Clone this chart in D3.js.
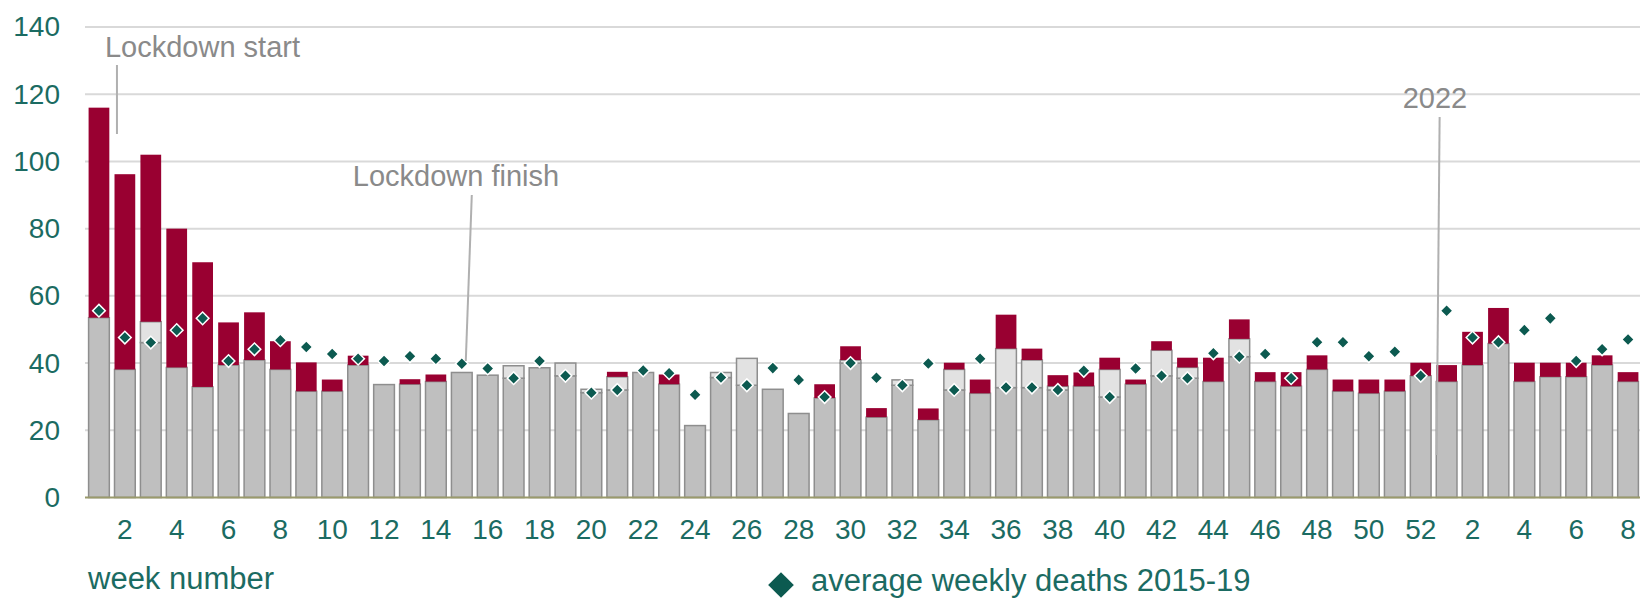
<!DOCTYPE html>
<html>
<head>
<meta charset="utf-8">
<script src="https://cdn.jsdelivr.net/npm/d3@7"></script>
<style>
  body { margin: 0; background: #fff; }
  svg { display: block; font-family: "Liberation Sans", Arial, sans-serif; }
</style>
</head>
<body>
<svg id="chart" width="1640" height="599"></svg>
<script>
// week numbers: 2021 weeks 1-52 then 2022 weeks 1-8
var weekNo = d3.range(1, 53).concat(d3.range(1, 9));

// all deaths registered that week
var allDeaths = [
    116, 96.2, 102, 80, 70, 52.1, 55.1, 46.5, 40.2, 35.1,
    42.2, 33.6, 35.2, 36.6, 37.2, 36.4, 39.2, 38.6, 40.0, 32.2,
    37.4, 37.2, 36.6, 21.4, 37.2, 41.4, 32.2, 25.0, 33.7, 45.0,
    26.6, 35.0, 26.5, 40.1, 35.1, 54.4, 44.3, 36.4, 37.2, 41.6,
    35.1, 46.5, 41.6, 41.6, 53.0, 37.3, 37.3, 42.3, 35.1, 35.1,
    35.1, 40.1,
    39.4, 49.3, 56.4, 40.1, 40.1, 40.1, 42.3, 37.3
];

// deaths not involving covid-19
var nonCovid = [
    53.5, 38.1, 52.3, 38.7, 32.9, 39.4, 40.9, 38.1, 31.6, 31.6,
    39.4, 33.6, 33.7, 34.5, 37.2, 36.4, 39.2, 38.6, 40.0, 32.2,
    35.9, 37.2, 33.7, 21.4, 37.2, 41.4, 32.2, 25.0, 29.6, 40.9,
    23.9, 35.0, 23.1, 38.1, 31.0, 44.3, 40.9, 33.1, 33.1, 38.1,
    33.7, 43.8, 38.7, 34.5, 47.2, 34.5, 33.1, 38.1, 31.6, 31.0,
    31.6, 36.2,
    34.5, 39.4, 45.8, 34.5, 35.9, 35.9, 39.4, 34.5
];

// average weekly deaths 2015-19
var avgDeaths = [
    55.6, 47.6, 46.1, 49.8, 53.3, 40.6, 44.1, 46.8, 44.8, 42.7,
    41.3, 40.6, 42.0, 41.3, 39.8, 38.4, 35.5, 40.6, 36.2, 31.2,
    32.0, 37.8, 37.0, 30.6, 35.7, 33.4, 38.5, 35.0, 29.9, 40.0,
    35.6, 33.4, 39.9, 32.0, 41.3, 32.7, 32.7, 32.0, 37.7, 29.9,
    38.4, 36.2, 35.5, 42.9, 41.9, 42.7, 35.5, 46.2, 46.2, 42.0,
    43.4, 36.2,
    55.6, 47.6, 46.2, 49.8, 53.3, 40.6, 44.1, 47.0
];

var yTicks = [0, 20, 40, 60, 80, 100, 120, 140];

// annotation offsets are relative to the centre of the given week's bar
var notes = [
    {text: 'Lockdown start', week: 0, tx: 6, ty: 57, x1: 18, y1: 65, x2: 18, y2: 134},
    {text: 'Lockdown finish', week: 14, tx: -109, ty: 186, x1: 10, y1: 195, x2: 4, y2: 361},
    {text: '2022', week: 52, tx: -44, ty: 108, x1: -7, y1: 117, x2: -10, y2: 455}
];

var red = '#990031',
    grey = '#bfbfbf',
    lightGrey = '#e2e2e2',
    edge = '#8e8e8e',
    teal = '#1b6b62',
    diamondCol = '#0c5a50',
    noteCol = '#8a8a8a';

var svg = d3.select('#chart');
var idx = d3.range(weekNo.length);

var x = d3.scaleBand()
    .domain(idx)
    .range([86, 1641])
    .paddingInner(0.2)
    .paddingOuter(0.1);

var y = d3.scaleLinear()
    .domain([0, 140])
    .range([497.5, 27]);

// gridlines
svg.append('g')
    .selectAll('line')
    .data(yTicks.slice(1))
    .enter()
    .append('line')
    .attr('x1', 85)
    .attr('x2', 1640)
    .attr('y1', function(d) { return y(d); })
    .attr('y2', function(d) { return y(d); })
    .style('stroke', '#d9d9d9')
    .style('stroke-width', '2px');

// bar segments: grey up to min(nonCovid, avg), light grey above the average, red for covid
var segs = [];
idx.forEach(function(i) {
    var base = Math.min(nonCovid[i], avgDeaths[i]);
    segs.push({i: i, y0: 0, y1: base, fill: grey, stroke: edge});
    if (nonCovid[i] > base) segs.push({i: i, y0: base, y1: nonCovid[i], fill: lightGrey, stroke: edge});
    if (allDeaths[i] > nonCovid[i]) segs.push({i: i, y0: nonCovid[i], y1: allDeaths[i], fill: red, stroke: 'none'});
});

svg.append('g')
    .selectAll('rect')
    .data(segs)
    .enter()
    .append('rect')
    .attr('x', function(d) { return x(d.i); })
    .attr('width', x.bandwidth())
    .attr('y', function(d) { return y(d.y1); })
    .attr('height', function(d) { return y(d.y0) - y(d.y1); })
    .style('fill', function(d) { return d.fill; })
    .style('stroke', function(d) { return d.stroke; })
    .style('stroke-width', '1.5px');

// baseline
svg.append('line')
    .attr('x1', 85).attr('x2', 1640)
    .attr('y1', y(0)).attr('y2', y(0))
    .style('stroke', '#9a9a6c')
    .style('stroke-width', '2px');

// average markers
var diamond = d3.symbol().type(d3.symbolSquare).size(80);
svg.append('g')
    .selectAll('path')
    .data(idx)
    .enter()
    .append('path')
    .attr('d', diamond)
    .attr('transform', function(i) {
        return 'translate(' + (x(i) + x.bandwidth() / 2) + ',' + y(avgDeaths[i]) + ') rotate(45)';
    })
    .style('fill', diamondCol)
    .style('stroke', '#fff')
    .style('stroke-width', '1.5px');

// axes
var yAxis = svg.append('g')
    .attr('transform', 'translate(86,0)')
    .call(d3.axisLeft(y).tickValues(yTicks).tickSize(0).tickPadding(26));

var xAxis = svg.append('g')
    .attr('transform', 'translate(0,' + y(0) + ')')
    .call(d3.axisBottom(x)
        .tickValues(idx.filter(function(i) { return weekNo[i] % 2 == 0; }))
        .tickFormat(function(i) { return weekNo[i]; })
        .tickSize(0)
        .tickPadding(22));

[yAxis, xAxis].forEach(function(a) {
    a.select('.domain').remove();
    a.selectAll('text')
        .style('font-family', '"Liberation Sans", Arial, sans-serif')
        .style('font-size', '28px')
        .style('fill', teal);
});

svg.append('text')
    .attr('x', 88)
    .attr('y', 589)
    .text('week number')
    .style('font-size', '31px')
    .style('fill', teal);

// legend
svg.append('path')
    .attr('d', d3.symbol().type(d3.symbolSquare).size(330))
    .attr('transform', 'translate(781,585) rotate(45)')
    .style('fill', diamondCol);

svg.append('text')
    .attr('x', 811)
    .attr('y', 591)
    .text('average weekly deaths 2015-19')
    .style('font-size', '31px')
    .style('fill', teal);

// annotations
var ann = svg.append('g')
    .selectAll('g')
    .data(notes)
    .enter()
    .append('g')
    .attr('transform', function(d) { return 'translate(' + (x(d.week) + x.bandwidth() / 2) + ',0)'; });

ann.append('line')
    .attr('x1', function(d) { return d.x1; })
    .attr('y1', function(d) { return d.y1; })
    .attr('x2', function(d) { return d.x2; })
    .attr('y2', function(d) { return d.y2; })
    .style('stroke', '#b0b0b0')
    .style('stroke-width', '2px');

ann.append('text')
    .attr('x', function(d) { return d.tx; })
    .attr('y', function(d) { return d.ty; })
    .text(function(d) { return d.text; })
    .style('font-size', '29px')
    .style('fill', noteCol);
</script>
</body>
</html>
